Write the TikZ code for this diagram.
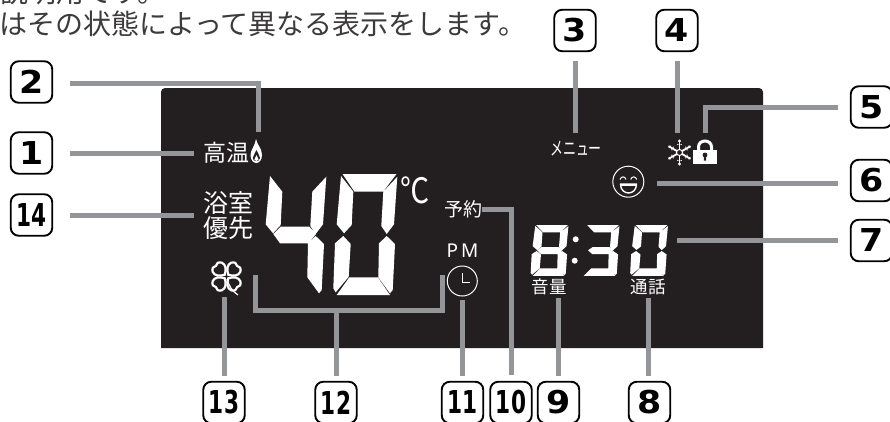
\documentclass[tikz,border=0pt]{standalone}
\usepackage{fontspec}
\setmainfont{Noto Sans CJK JP}
\newfontfamily\numfont{DejaVu Sans}
\newfontfamily\latinfont{Noto Sans}
\usetikzlibrary{positioning}
\definecolor{panelblack}{HTML}{231F20}
\definecolor{leadergray}{HTML}{939598}
\definecolor{headtext}{HTML}{3C3A3B}
\newcommand{\fs}[1]{\fontsize{#1}{#1}\selectfont}
\newcommand{\onedigit}[1]{\scalebox{1.16}[1.05]{#1}}
\newcommand{\twodigit}[1]{\scalebox{.72}[1.05]{#1}}
% segments of one display digit
\newcommand{\sega}{(9.5,0) -- (63.5,0) -- (50,17.7) -- (21.5,17.7) -- cycle}
\newcommand{\segb}{(64.3,2.7) -- (61,50.3) -- (53.7,60) -- (48.3,52) -- (50.3,17.7) -- cycle}
\newcommand{\segc}{(53.7,62) -- (62,70) -- (59.7,116) -- (57,119.3) -- (45.3,103.3) -- (46,69.3) -- cycle}
\newcommand{\segd}{(3.7,121) -- (16.3,103.3) -- (44.7,103.3) -- (57,121) -- cycle}
\newcommand{\sege}{(10.3,62) -- (17.7,70) -- (15.7,102.7) -- (2.7,118.3) -- (.3,114.3) -- (2,69.3) -- cycle}
\newcommand{\segf}{(8,2) -- (20.3,17.7) -- (18.7,51) -- (11,59.3) -- (3.7,50.3) -- cycle}
\newcommand{\segg}{(18.7,52.7) -- (47.3,52.7) -- (54,60) -- (46.3,69.3) -- (18,69.3) -- (11.3,60) -- cycle}

\begin{document}
\begin{tikzpicture}[
  x=1pt,y=-1pt,
  badge/.style={rectangle,draw=black,line width=1.9pt,fill=white,rounded corners=8pt,
    minimum size=41.5pt,inner sep=0pt,font=\numfont\bfseries\fs{30}},
  leader/.style={draw=leadergray,line width=5pt},
  head_text/.style={text=headtext,inner sep=0pt,anchor=west,font=\fs{28}},
  lcd_label/.style={text=white,inner sep=0pt},
  lcd_digit/.style={fill=white},
  small_digit/.style={fill=white,xscale=.59,yscale=.42},
  icon_line/.style={draw=white,line width=1pt},
  icon_ring/.style={circle,draw=white,line width=1pt,inner sep=0pt}]
    \useasboundingbox (0,0) rectangle (890,421);
    \clip (0,0) rectangle (890,421);
    % Heading
    \node[head_text] (head_one) at (0,-8) {説明用です。};
    \node[head_text] (head_two) at (-1,23.5) {はその状態によって異なる表示をします。};
    % Panel
    \fill[panelblack] (161,348) [rounded corners=4pt] -- (161,88) -- (763,88) [sharp corners] -- (763,348) -- cycle;
    % Labels
    \node[lcd_label,font=\fs{23}] (kouon) at (226,152.5) {高温};
    \node[lcd_label,font=\fs{25},align=center] (yokushitsu) at (228,215.5) {\fontsize{25}{30}\selectfont 浴室\\優先};
    \node[lcd_label,font=\fs{27}] (degree) at (415,190) {\scalebox{1.08}[1.3]{℃}};
    \node[lcd_label,font=\fs{19}] (yoyaku) at (463,209) {予約};
    \node[lcd_label,font=\latinfont\fs{19}] (pm) at (462.5,251) {P\,M};
    \node[lcd_label,font=\fs{17.5}] (onryou) at (549,287) {音量};
    \node[lcd_label,font=\fs{17.5}] (tsuwa) at (648,287) {通話};
    \node[lcd_label] (menu) at (576,149) {\scalebox{.72}[1.05]{\fs{18}メニュー}};
    % Big digits
    \fill[lcd_digit,shift={(262,174)}] \segb \segc \segf \segg;
    \fill[lcd_digit,shift={(333,174)}] \sega \segb \segc \segd \sege \segf;
    % Small digits
    \fill[shift={(530.5,225)},small_digit] \sega \segb \segc \segd \sege \segf \segg;
    \fill[shift={(581.5,225)},small_digit] \sega \segb \segc \segd \segg;
    \fill[shift={(630,225)},small_digit] \sega \segb \segc \segd \sege \segf;
    \fill[white] (575.7,239.3) circle[radius=3pt] (574.7,260.7) circle[radius=3pt];
    % Flame
    \fill[white] (256,139) .. controls (257,145) and (262,148) .. (262,155)
      .. controls (262,160) and (259,163) .. (256.5,163)
      .. controls (253,163) and (250.5,160) .. (250.5,155)
      .. controls (250.5,150) and (255,146) .. (256,139) -- cycle;
    \fill[panelblack] (256.5,150) .. controls (257,153) and (260,155) .. (260,158)
      .. controls (260,160) and (258,161) .. (256.5,161)
      .. controls (254,161) and (252.8,160) .. (252.8,158)
      .. controls (252.8,155) and (256,153) .. (256.5,150) -- cycle;
    \fill[white] (256.5,155) -- (258.6,159.5) -- (256.5,161) -- (254.4,159.5) -- cycle;
    % Snowflake
    \foreach \ang in {30,90,150} {
      \draw[icon_line,line width=1.8pt,shift={(679.5,152.5)},rotate=\ang] (-11,0) -- (11,0);
      \fill[white,shift={(679.5,152.5)},rotate=\ang] (-11.5,0) circle[radius=1.6pt] (11.5,0) circle[radius=1.6pt]
        (-8,-1.6) circle[radius=.7pt] (-8,1.6) circle[radius=.7pt] (8,-1.6) circle[radius=.7pt] (8,1.6) circle[radius=.7pt];
    }
    \draw[icon_line,fill=panelblack] (679.5,152.5) circle[radius=3pt];
    % Lock
    \draw[draw=white,line width=3pt] (698.5,151) -- (698.5,147) .. controls (698.5,139) and (711.5,139) .. (711.5,147) -- (711.5,151);
    \fill[white] (693.3,150) rectangle (716.7,163.5);
    \fill[panelblack] (705,155) circle[radius=2.4pt] (703.9,155) rectangle (706.1,160.5);
    % Smiley
    \node[icon_ring,minimum size=31pt] (smile) at (628.3,181.7) {};
    \draw[icon_line] (620,179.5) .. controls (621,176) and (625,176) .. (626,179.5);
    \draw[icon_line] (630.7,179.5) .. controls (631.7,176) and (635.7,176) .. (636.7,179.5);
    \draw[icon_line,line width=1.4pt,line join=round] (620.5,184) -- (636.5,184) .. controls (636.5,196) and (620.5,196) .. (620.5,184) -- cycle;
    \fill[white] (620.5,184) rectangle (636.5,186);
    % Clover
    \foreach \ang in {45,135,225,315} {
      \draw[icon_line,line width=2.2pt,shift={(226.5,276.5)},rotate=\ang] (2.5,0) .. controls (5,-5) and (9,-8) .. (13,-6.5)
        .. controls (16,-5) and (17,-2) .. (15,0) .. controls (17,2) and (16,5) .. (13,6.5)
        .. controls (9,8) and (5,5) .. (2.5,0) -- cycle;
    }
    \draw[icon_line,line width=1.2pt] (227,279) .. controls (229,286) and (232,291) .. (238,295);
    % Clock
    \node[icon_ring,minimum size=30pt] (clock) at (462.3,281) {};
    \draw[icon_line] (462.5,273) -- (462.5,282) -- (470,282);
    % Free ends and bracket
    \coordinate (flame_top) at (258,132);
    \coordinate (snow_top) at (677,133);
    \coordinate (lock_top) at (705.3,133);
    \coordinate (digit_end) at (677,240.5);
    \coordinate (clover_foot) at (224,297);
    \coordinate (br_top_l) at (255.7,275);
    \coordinate (br_low_l) at (255.7,310);
    \coordinate (br_low_m) at (336,310);
    \coordinate (br_low_r) at (442.5,310);
    \coordinate (br_top_r) at (442.5,275);
    % Number badges
    \node[badge] (num1) at (31.5,153) {\onedigit{1}};
    \node[badge] (num2) at (31.5,82) {\onedigit{2}};
    \node[badge] (num3) at (575,30.5) {\onedigit{3}};
    \node[badge] (num4) at (677,30.5) {\onedigit{4}};
    \node[badge] (num5) at (871.5,107) {\onedigit{5}};
    \node[badge] (num6) at (871.5,180.5) {\onedigit{6}};
    \node[badge] (num7) at (871.5,240.5) {\onedigit{7}};
    \node[badge] (num8) at (649.5,402.5) {\onedigit{8}};
    \node[badge] (num9) at (558.5,402.5) {\onedigit{9}};
    \node[badge] (num10) at (511,402.5) {\twodigit{10}};
    \node[badge] (num11) at (462.5,402.5) {\twodigit{11}};
    \node[badge] (num12) at (336,402.5) {\twodigit{12}};
    \node[badge] (num13) at (224,402.5) {\twodigit{13}};
    \node[badge] (num14) at (31.5,215) {\twodigit{14}};
    % Leaders
    \draw[leader,shorten <=17pt,shorten >=9pt] (num1.east) -- (num1.east -| kouon.west);
    \draw[leader,shorten <=17pt] ([yshift=-1.5pt]num2.east) -| (flame_top);
    \draw[leader,shorten <=9pt] (num3.south) -- (num3.south |- 0,133);
    \draw[leader,shorten <=9pt] (num4.south) -- (snow_top);
    \draw[leader,shorten <=12pt] (num5.west) -| (lock_top);
    \draw[leader,shorten <=12pt,shorten >=13pt] ([yshift=-2.8pt]num6.west) -- ([yshift=-2.8pt]num6.west -| smile.east);
    \draw[leader,shorten <=12pt] (num7.west) -- (digit_end);
    \draw[leader,shorten <=5pt,shorten >=3pt] ([xshift=-1.5pt]num8.north) -- ([xshift=-1.5pt]num8.north |- tsuwa.south);
    \draw[leader,shorten <=5pt] (num9.north) -- (num9.north |- 0,298);
    \draw[leader,shorten <=6pt] (num10.north) |- (yoyaku.east);
    \draw[leader,shorten <=5pt,shorten >=3pt] (num11.north) -- (num11.north |- clock.south);
    \draw[leader,shorten <=5pt] (num12.north) -- (br_low_m);
    \draw[leader,shorten <=5pt] (num13.north) -- (clover_foot);
    \draw[leader] (br_top_l) -- (br_low_l) -- (br_low_r) -- (br_top_r);
    \draw[leader,shorten <=17pt,shorten >=9pt] (num14.east) -- (num14.east -| yokushitsu.west);
\end{tikzpicture}
\end{document}
